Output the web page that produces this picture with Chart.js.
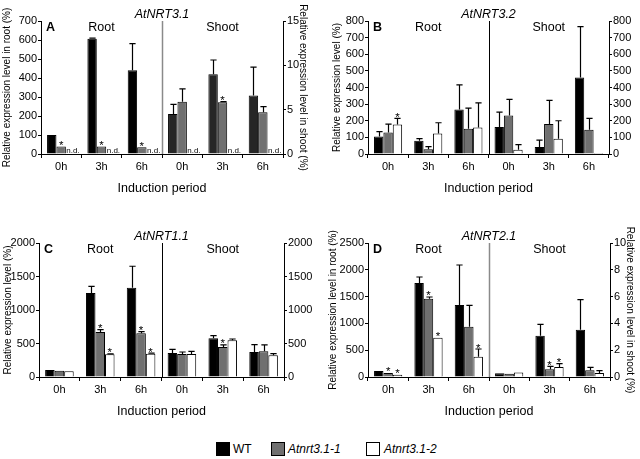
<!DOCTYPE html>
<html><head><meta charset="utf-8">
<script src="https://cdn.jsdelivr.net/npm/chart.js@4.4.0/dist/chart.umd.min.js"></script>
<style>
html,body{margin:0;padding:0;background:#fff;}
body{width:640px;height:459px;position:relative;overflow:hidden;font-family:'Liberation Sans',Arial,Helvetica,sans-serif;}
canvas{position:absolute;}
#legend{position:absolute;top:441px;left:0;width:640px;height:16px;font-size:12px;color:#000;}
.box{position:absolute;width:14px;height:14px;border:1px solid #000;box-sizing:border-box;top:1px;}
.lab{position:absolute;top:0;line-height:16px;white-space:nowrap;}
</style></head>
<body>
<canvas id="cA" width="320" height="200" style="left:0;top:0"></canvas>
<canvas id="cB" width="320" height="200" style="left:320px;top:0"></canvas>
<canvas id="cC" width="320" height="200" style="left:0;top:222px"></canvas>
<canvas id="cD" width="320" height="200" style="left:320px;top:222px"></canvas>
<div id="legend"></div>
<script>
// ---------------- DATA ----------------
const categories = ['0h', '3h', '6h', '0h', '3h', '6h'];
const seriesNames = ['WT', 'Atnrt3.1-1', 'Atnrt3.1-2'];
const xTitle = 'Induction period';

// Panel A: AtNRT3.1  (root on left axis, shoot on right axis; null = n.d.)
const A_rootWT = [100, 607, 441];   const A_rootWT_sd = [0, 3, 140];
const A_rootM1 = [40, 40, 35];      const A_rootM1_sd = [0, 0, 0];
const A_rootM2 = [null, null, null];const A_rootM2_sd = [0, 0, 0];
const A_shootWT = [4.5, 9.0, 6.6];  const A_shootWT_sd = [1.1, 1.6, 3.2];
const A_shootM1 = [5.9, 5.85, 4.7]; const A_shootM1_sd = [1.45, 0.05, 0.65];
const A_shootM2 = [null, null, null];const A_shootM2_sd = [0, 0, 0];
const A_stars = [['root', 1, 0], ['root', 1, 1], ['root', 1, 2], ['shoot', 1, 1]];
const A_leftAxis = [0, 700, 100];
const A_rightAxis = [0, 15, 5];

// Panel B: AtNRT3.2
const B_rootWT = [106, 80, 268];    const B_rootWT_sd = [28, 12, 148];
const B_rootM1 = [130, 28, 152];    const B_rootM1_sd = [50, 16, 124];
const B_rootM2 = [178, 124, 160];   const B_rootM2_sd = [36, 64, 148];
const B_shootWT = [162, 42, 460];   const B_shootWT_sd = [90, 42, 306];
const B_shootM1 = [232, 180, 146];  const B_shootM1_sd = [96, 142, 68];
const B_shootM2 = [26, 92, 6];      const B_shootM2_sd = [30, 108, 0];
const B_stars = [['root', 2, 0]];
const B_leftAxis = [0, 800, 100];
const B_rightAxis = [0, 800, 100];

// Panel C: AtNRT1.1
const C_rootWT = [105, 1254, 1333]; const C_rootWT_sd = [0, 100, 320];
const C_rootM1 = [95, 672, 652];    const C_rootM1_sd = [0, 34, 25];
const C_rootM2 = [85, 338, 348];    const C_rootM2_sd = [0, 8, 8];
const C_shootWT = [358, 577, 373];  const C_shootWT_sd = [55, 40, 110];
const C_shootM1 = [343, 448, 383];  const C_shootM1_sd = [30, 30, 95];
const C_shootM2 = [343, 547, 323];  const C_shootM2_sd = [40, 20, 25];
const C_stars = [['root', 1, 1], ['root', 1, 2], ['root', 2, 1], ['root', 2, 2], ['shoot', 1, 1]];
const C_leftAxis = [0, 2000, 500];
const C_rightAxis = [0, 2000, 500];

// Panel D: AtNRT2.1 (root on left axis, shoot on right axis)
const D_rootWT = [110, 1754, 1343]; const D_rootWT_sd = [0, 112, 747];
const D_rootM1 = [75, 1461, 939];   const D_rootM1_sd = [0, 32, 398];
const D_rootM2 = [40, 734, 379];    const D_rootM2_sd = [0, 0, 143];
const D_shootWT = [0.28, 3.08, 3.53];const D_shootWT_sd = [0, 0.85, 2.24];
const D_shootM1 = [0.25, 0.57, 0.5];const D_shootM1_sd = [0, 0.23, 0.22];
const D_shootM2 = [0.33, 0.75, 0.3];const D_shootM2_sd = [0, 0.25, 0.17];
const D_stars = [['root', 1, 0], ['root', 2, 0], ['root', 1, 1], ['root', 2, 1], ['root', 2, 2], ['shoot', 1, 1], ['shoot', 2, 1]];
const D_leftAxis = [0, 2500, 500];
const D_rightAxis = [0, 10, 2];

// ---------------- STYLE / BUILD ----------------
const FONT = "'Liberation Sans', Arial, Helvetica, sans-serif";
Chart.defaults.font.family = FONT;
Chart.defaults.color = '#000';
Chart.defaults.animation = false;
const FILLS = ['#000000', '#707070', '#ffffff'];

const annot = {
  id: 'annot',
  afterDatasetsDraw(chart) {
    const p = chart.options.plugins.annot;
    const ctx = chart.ctx, ca = chart.chartArea;
    ctx.save();
    const xs = chart.scales.x;
    const dx = Math.round((xs.getPixelForValue(2) + xs.getPixelForValue(3)) / 2) + 0.5;
    ctx.strokeStyle = p.divColor; ctx.lineWidth = p.divWidth;
    ctx.beginPath(); ctx.moveTo(dx, ca.top); ctx.lineTo(dx, ca.bottom); ctx.stroke();
    chart.data.datasets.forEach((ds, di) => {
      const meta = chart.getDatasetMeta(di);
      const sc = chart.scales[ds.yAxisID];
      ds.data.forEach((v, i) => {
        const el = meta.data[i];
        if (!el) return;
        if (ds.nd[i]) {
          ctx.fillStyle = '#000'; ctx.font = '8px ' + FONT;
          ctx.textAlign = 'left'; ctx.textBaseline = 'alphabetic';
          ctx.fillText('n.d.', el.x - el.width / 2 + 0.5, ca.bottom - 1.5);
          return;
        }
        if (v === null) return;
        const sd = ds.sd[i] || 0;
        const yTop = sc.getPixelForValue(v);
        const yErr = sc.getPixelForValue(v + sd);
        if (sd > 0) {
          const cx = Math.round(el.x) + 0.5;
          const half = el.width * 0.33;
          ctx.strokeStyle = '#000'; ctx.lineWidth = 1.2;
          ctx.beginPath();
          ctx.moveTo(cx, yTop); ctx.lineTo(cx, yErr);
          ctx.moveTo(cx - half, yErr); ctx.lineTo(cx + half, yErr);
          ctx.stroke();
        }
        if (ds.stars[i]) {
          ctx.fillStyle = '#000'; ctx.font = '11.5px ' + FONT;
          ctx.textAlign = 'center'; ctx.textBaseline = 'alphabetic';
          ctx.fillText('*', el.x, Math.min(yErr, yTop) + 2.5);
        }
      });
    });
    ctx.restore();
  },
  afterDraw(chart) {
    const p = chart.options.plugins.annot;
    const ctx = chart.ctx, ca = chart.chartArea;
    const mid = (ca.left + ca.right) / 2;
    ctx.save();
    ctx.fillStyle = '#000';
    ctx.textBaseline = 'alphabetic';
    ctx.textAlign = 'center';
    ctx.font = 'italic 12.5px ' + FONT;
    ctx.fillText(p.title, mid, ca.top - 3);
    ctx.font = '12.5px ' + FONT;
    ctx.fillText('Root', (ca.left + mid) / 2, ca.top + 9.5);
    ctx.fillText('Shoot', (mid + ca.right) / 2, ca.top + 9.5);
    ctx.textAlign = 'left';
    ctx.font = 'bold 12.5px ' + FONT;
    ctx.fillText(p.letter, ca.left + 5, ca.top + 10);
    ctx.font = '10px ' + FONT;
    ctx.textAlign = 'center'; ctx.textBaseline = 'middle';
    const my = (ca.top + ca.bottom) / 2;
    ctx.save(); ctx.translate(p.leftTitleX, my); ctx.rotate(-Math.PI / 2);
    ctx.fillText(p.leftTitle, 0, 0); ctx.restore();
    if (p.rightTitle) {
      ctx.save(); ctx.translate(p.rightTitleX, my); ctx.rotate(Math.PI / 2);
      ctx.fillText(p.rightTitle, 0, 0); ctx.restore();
    }
    ctx.restore();
  }
};

function makePanel(id, p) {
  const W = 320, H = 200;
  const datasets = [];
  const parts = [['root', 'y', p.root, p.rootSd], ['shoot', 'y2', p.shoot, p.shootSd]];
  parts.forEach(([part, axis, vals, sds], pi) => {
    for (let s = 0; s < 3; s++) {
      const pad = [null, null, null];
      const data = pi === 0 ? vals[s].concat(pad) : pad.concat(vals[s]);
      const sd = pi === 0 ? sds[s].concat([0, 0, 0]) : [0, 0, 0].concat(sds[s]);
      const nd = data.map((v, i) => v === null && (pi === 0 ? i < 3 : i >= 3));
      const stars = data.map(() => false);
      p.stars.forEach(([pt, ss, t]) => { if (pt === part && ss === s) stars[pi === 0 ? t : t + 3] = true; });
      let fill = FILLS[s];
      if (s === 0 && pi === 1 && p.wtShootFill) fill = p.wtShootFill;
      datasets.push({
        label: seriesNames[s] + ' (' + part + ')',
        data, sd, nd, stars,
        yAxisID: axis, stack: 'g' + s,
        backgroundColor: fill, borderColor: '#000', borderWidth: 1,
        barPercentage: 1.0, categoryPercentage: 0.7
      });
    }
  });
  const axisCommon = (range, pos, width) => ({
    type: 'linear', position: pos, min: range[0], max: range[1], stacked: false,
    ticks: { stepSize: range[2], font: { size: 11 }, padding: 1, color: '#000', callback: v => v },
    grid: { display: true, drawOnChartArea: false, drawTicks: true, tickLength: 3, color: '#000' },
    border: { display: true, color: '#000', width: 1 },
    afterFit(sc) { sc.width = width; }
  });
  new Chart(document.getElementById(id), {
    type: 'bar',
    data: { labels: categories, datasets },
    options: {
      responsive: false, maintainAspectRatio: false, animation: false,
      layout: { padding: { top: p.area.t, left: 0, right: 0, bottom: 0 } },
      plugins: {
        legend: { display: false }, tooltip: { enabled: false },
        annot: {
          title: p.title, letter: p.letter, divColor: p.divColor, divWidth: p.divWidth,
          leftTitle: p.leftTitle, leftTitleX: p.leftTitleX,
          rightTitle: p.rightTitle, rightTitleX: p.rightTitleX
        }
      },
      scales: {
        x: {
          type: 'category', offset: true,
          grid: { display: true, drawOnChartArea: false, drawTicks: true, tickLength: 4, offset: true, color: '#000' },
          border: { display: true, color: '#000', width: 1 },
          ticks: { font: { size: 11 }, padding: 2, maxRotation: 0, autoSkip: false, color: '#000' },
          title: { display: true, text: xTitle, font: { size: 12.5 }, color: '#000', padding: { top: 0, bottom: p.xTitlePad } },
          afterFit(sc) { sc.height = H - p.area.b; }
        },
        y: axisCommon(p.leftAxis, 'left', p.area.l),
        y2: axisCommon(p.rightAxis, 'right', W - p.area.r)
      }
    },
    plugins: [annot]
  });
}

makePanel('cA', {
  title: 'AtNRT3.1', letter: 'A',
  root: [A_rootWT, A_rootM1, A_rootM2], rootSd: [A_rootWT_sd, A_rootM1_sd, A_rootM2_sd],
  shoot: [A_shootWT, A_shootM1, A_shootM2], shootSd: [A_shootWT_sd, A_shootM1_sd, A_shootM2_sd],
  stars: A_stars, leftAxis: A_leftAxis, rightAxis: A_rightAxis,
  area: { l: 41, r: 283, t: 21, b: 154 }, xTitlePad: 4,
  divColor: '#8a8a8a', divWidth: 1.5, wtShootFill: '#262626',
  leftTitle: 'Relative expression level in root (%)', leftTitleX: 7.5,
  rightTitle: 'Relative expression level in shoot (%)', rightTitleX: 303
});
makePanel('cB', {
  title: 'AtNRT3.2', letter: 'B',
  root: [B_rootWT, B_rootM1, B_rootM2], rootSd: [B_rootWT_sd, B_rootM1_sd, B_rootM2_sd],
  shoot: [B_shootWT, B_shootM1, B_shootM2], shootSd: [B_shootWT_sd, B_shootM1_sd, B_shootM2_sd],
  stars: B_stars, leftAxis: B_leftAxis, rightAxis: B_rightAxis,
  area: { l: 48, r: 289, t: 21, b: 154 }, xTitlePad: 4,
  divColor: '#000', divWidth: 1,
  leftTitle: 'Relative expression level (%)', leftTitleX: 17
});
makePanel('cC', {
  title: 'AtNRT1.1', letter: 'C',
  root: [C_rootWT, C_rootM1, C_rootM2], rootSd: [C_rootWT_sd, C_rootM1_sd, C_rootM2_sd],
  shoot: [C_shootWT, C_shootM1, C_shootM2], shootSd: [C_shootWT_sd, C_shootM1_sd, C_shootM2_sd],
  stars: C_stars, leftAxis: C_leftAxis, rightAxis: C_rightAxis,
  area: { l: 39, r: 284, t: 21, b: 155 }, xTitlePad: 3,
  divColor: '#000', divWidth: 1,
  leftTitle: 'Relative expression level (%)', leftTitleX: 8
});
makePanel('cD', {
  title: 'AtNRT2.1', letter: 'D',
  root: [D_rootWT, D_rootM1, D_rootM2], rootSd: [D_rootWT_sd, D_rootM1_sd, D_rootM2_sd],
  shoot: [D_shootWT, D_shootM1, D_shootM2], shootSd: [D_shootWT_sd, D_shootM1_sd, D_shootM2_sd],
  stars: D_stars, leftAxis: D_leftAxis, rightAxis: D_rightAxis,
  area: { l: 48, r: 290, t: 21, b: 155 }, xTitlePad: 3,
  divColor: '#8a8a8a', divWidth: 1.5,
  leftTitle: 'Relative expression level in root (%)', leftTitleX: 13,
  rightTitle: 'Relative expression level in shoot (%)', rightTitleX: 310
});

// legend
const legendX = [[216, 233], [271, 288], [366, 384]];
const lg = document.getElementById('legend');
seriesNames.forEach((name, s) => {
  const b = document.createElement('div');
  b.className = 'box'; b.style.left = legendX[s][0] + 'px'; b.style.background = FILLS[s];
  const t = document.createElement('span');
  t.className = 'lab'; t.style.left = legendX[s][1] + 'px'; t.textContent = name;
  if (s > 0) t.style.fontStyle = 'italic';
  lg.appendChild(b); lg.appendChild(t);
});
</script>
</body></html>
